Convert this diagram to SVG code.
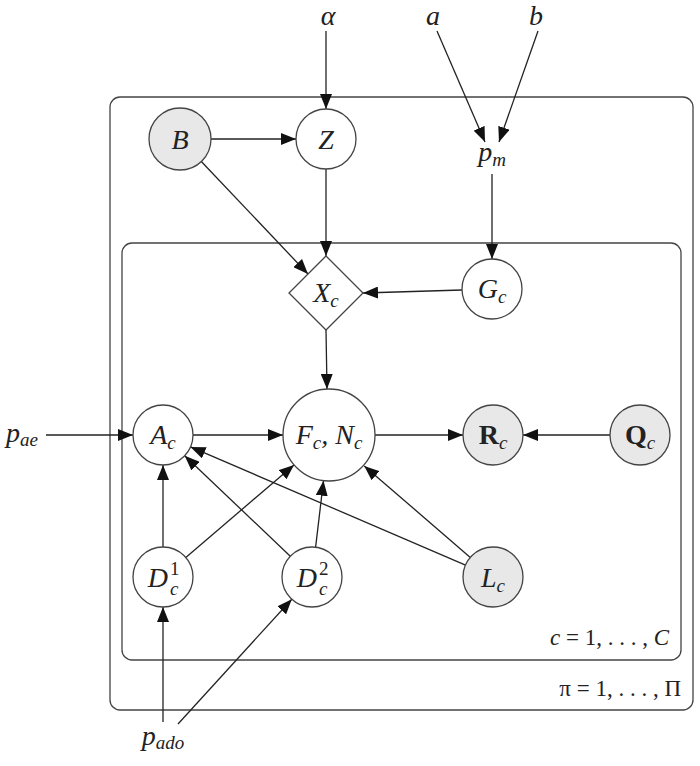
<svg xmlns="http://www.w3.org/2000/svg" width="700" height="766" viewBox="0 0 700 766">
<style>
.plate{fill:none;stroke:#444;stroke-width:1.3}
.node{fill:#fff;stroke:#444;stroke-width:1.3}
.obs{fill:#e8e8e8;stroke:#444;stroke-width:1.3}
.edge{stroke:#222;stroke-width:1.3;fill:none;marker-end:url(#ah)}
text{font-family:"Liberation Serif","DejaVu Serif",serif;font-style:italic;fill:#222}
.lbl{font-size:28px;text-anchor:middle}
.sub{font-size:19px}
.bold{font-weight:bold;font-style:normal}
.up{font-style:normal}
</style>
<defs>
<marker id="ah" markerUnits="userSpaceOnUse" markerWidth="15" markerHeight="12" refX="15" refY="6" orient="auto">
<path d="M0,0 L15,6 L0,12 z" fill="#111"/>
</marker>
</defs>
<rect class="plate" x="110" y="97" width="583" height="613" rx="10"/>
<rect class="plate" x="122" y="243" width="559" height="417" rx="10"/>
<text x="669" y="645" style="font-size:23px;text-anchor:end"><tspan>c</tspan><tspan class="up"> = 1, . . . , </tspan><tspan>C</tspan></text>
<text x="681" y="696" class="up" style="font-size:23px;text-anchor:end">π = 1, . . . , Π</text>
<g id="connectors">
<line class="edge" x1="326" y1="31" x2="326" y2="109"/>
<line class="edge" x1="437" y1="31" x2="485" y2="142"/>
<line class="edge" x1="538" y1="31" x2="499" y2="142"/>
<line class="edge" x1="211" y1="139" x2="296" y2="139"/>
<line class="edge" x1="201.3" y1="161.5" x2="308" y2="274"/>
<line class="edge" x1="326" y1="169" x2="326" y2="256"/>
<line class="edge" x1="492" y1="174" x2="492" y2="259"/>
<line class="edge" x1="462" y1="290" x2="363" y2="293"/>
<line class="edge" x1="326" y1="330" x2="327" y2="389"/>
<line class="edge" x1="46" y1="435" x2="133" y2="435"/>
<line class="edge" x1="193" y1="435" x2="283" y2="435"/>
<line class="edge" x1="375" y1="435" x2="463" y2="435"/>
<line class="edge" x1="610" y1="435" x2="523" y2="435"/>
<line class="edge" x1="163" y1="547" x2="163" y2="465"/>
<line class="edge" x1="185.8" y1="557.5" x2="294" y2="464.9"/>
<line class="edge" x1="290.3" y1="556.3" x2="184.7" y2="455.7"/>
<line class="edge" x1="315.6" y1="547.2" x2="323.5" y2="480.7"/>
<line class="edge" x1="465.5" y1="565.1" x2="190.5" y2="446.9"/>
<line class="edge" x1="470.3" y1="557.4" x2="364.2" y2="465.9"/>
<line class="edge" x1="163" y1="722" x2="163" y2="607"/>
<line class="edge" x1="178" y1="724" x2="291.8" y2="599.2"/>
</g>
<g id="alpha"><text class="lbl" x="328" y="25">α</text></g>
<g id="a"><text class="lbl" x="433" y="25">a</text></g>
<g id="b"><text class="lbl" x="536" y="25">b</text></g>
<g id="pm"><text class="lbl" x="492" y="161">p<tspan class="sub" dy="5">m</tspan></text></g>
<g id="B"><circle class="obs" cx="180" cy="139" r="31"/><text class="lbl" x="180" y="149">B</text></g>
<g id="Z"><circle class="node" cx="326" cy="139" r="30"/><text class="lbl" x="326" y="149">Z</text></g>
<g id="Xc"><path class="node" d="M326,256 L363,293 L326,330 L289,293 z"/><text class="lbl" x="326" y="302">X<tspan class="sub" dy="5">c</tspan></text></g>
<g id="Gc"><circle class="node" cx="492" cy="289" r="30"/><text class="lbl" x="492" y="298">G<tspan class="sub" dy="5">c</tspan></text></g>
<g id="pae"><text class="lbl" x="22" y="442">p<tspan class="sub" dy="4">ae</tspan></text></g>
<g id="Ac"><circle class="node" cx="163" cy="435" r="30"/><text class="lbl" x="163" y="444">A<tspan class="sub" dy="5">c</tspan></text></g>
<g id="FN"><circle class="node" cx="329" cy="435" r="46"/><text class="lbl" x="329" y="444">F<tspan class="sub" dy="5">c</tspan><tspan dy="-5">, N</tspan><tspan class="sub" dy="5">c</tspan></text></g>
<g id="Rc"><circle class="obs" cx="493" cy="435" r="30"/><text class="lbl" x="493" y="444"><tspan class="bold">R</tspan><tspan class="sub" dy="5">c</tspan></text></g>
<g id="Qc"><circle class="obs" cx="640" cy="435" r="30"/><text class="lbl" x="640" y="444"><tspan class="bold">Q</tspan><tspan class="sub" dy="5">c</tspan></text></g>
<g id="D1"><circle class="node" cx="163" cy="577" r="30"/><text x="168" y="587" style="font-size:28px;text-anchor:end">D</text><text class="sub up" x="170" y="575">1</text><text class="sub" x="170" y="595">c</text></g>
<g id="D2"><circle class="node" cx="312" cy="577" r="30"/><text x="317" y="587" style="font-size:28px;text-anchor:end">D</text><text class="sub up" x="319" y="575">2</text><text class="sub" x="319" y="595">c</text></g>
<g id="Lc"><circle class="obs" cx="493" cy="577" r="30"/><text class="lbl" x="493" y="587">L<tspan class="sub" dy="5">c</tspan></text></g>
<g id="pado"><text class="lbl" x="163" y="745">p<tspan class="sub" dy="4">ado</tspan></text></g>
</svg>
